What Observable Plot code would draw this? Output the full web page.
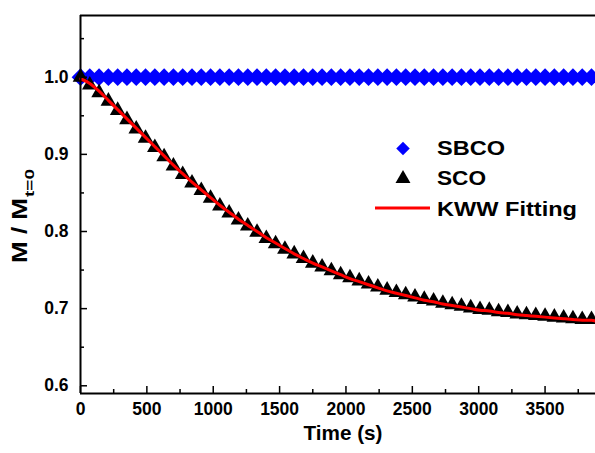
<!DOCTYPE html>
<html><head><meta charset="utf-8">
<script src="https://cdn.jsdelivr.net/npm/d3@7"></script>
<script src="https://cdn.jsdelivr.net/npm/@observablehq/plot@0.6"></script>
<style>
html,body{margin:0;padding:0;background:#fff;}
#chart{position:relative;width:595px;height:453px;overflow:hidden;}
</style></head><body><div id="chart"></div>
<script>
const time = [0,70,140,210,280,350,420,490,560,630,700,770,840,910,980,1050,1120,1190,1260,1330,1400,1470,1540,1610,1680,1750,1820,1890,1960,2030,2100,2170,2240,2310,2380,2450,2520,2590,2660,2730,2800,2870,2940,3010,3080,3150,3220,3290,3360,3430,3500,3570,3640,3710,3780,3850];
const sbco = [1.0,1.0,1.0,1.0,1.0,1.0,1.0,1.0,1.0,1.0,1.0,1.0,1.0,1.0,1.0,1.0,1.0,1.0,1.0,1.0,1.0,1.0,1.0,1.0,1.0,1.0,1.0,1.0,1.0,1.0,1.0,1.0,1.0,1.0,1.0,1.0,1.0,1.0,1.0,1.0,1.0,1.0,1.0,1.0,1.0,1.0,1.0,1.0,1.0,1.0,1.0,1.0,1.0,1.0,1.0,1.0];
const sco = [1.000,0.990,0.980,0.969,0.957,0.945,0.933,0.921,0.909,0.897,0.885,0.874,0.863,0.853,0.843,0.833,0.824,0.815,0.807,0.799,0.791,0.784,0.777,0.771,0.765,0.759,0.754,0.749,0.744,0.740,0.736,0.732,0.728,0.724,0.721,0.718,0.715,0.712,0.710,0.707,0.705,0.703,0.701,0.699,0.698,0.696,0.695,0.693,0.692,0.691,0.690,0.689,0.688,0.687,0.686,0.686];
const fitTime = [0,70,140,210,280,350,420,490,560,630,700,770,840,910,980,1050,1120,1190,1260,1330,1400,1470,1540,1610,1680,1750,1820,1890,1960,2030,2100,2170,2240,2310,2380,2450,2520,2590,2660,2730,2800,2870,2940,3010,3080,3150,3220,3290,3360,3430,3500,3570,3640,3710,3780,3850,3880];
const fitValue = [0.998,0.992,0.982,0.970,0.958,0.946,0.934,0.922,0.910,0.898,0.886,0.875,0.864,0.854,0.844,0.834,0.825,0.816,0.808,0.800,0.792,0.785,0.778,0.771,0.765,0.759,0.754,0.749,0.744,0.739,0.735,0.731,0.727,0.723,0.720,0.717,0.714,0.711,0.709,0.706,0.704,0.702,0.700,0.698,0.697,0.695,0.694,0.692,0.691,0.690,0.689,0.688,0.687,0.686,0.685,0.685,0.684];
const xMajor = [0,500,1000,1500,2000,2500,3000,3500];
const xMinor = [250,750,1250,1750,2250,2750,3250,3750];
const yMajor = [0.6,0.7,0.8,0.9,1.0];
const yMinor = [0.65,0.75,0.85,0.95,1.05];
const legendLabels = ["SBCO","SCO","KWW Fitting"];
const xTitle = "Time (s)";
const yTitle = "M / M";
const ySub = "t=0";

const font = "'Liberation Sans', Arial, Helvetica, sans-serif";
const sbcoData = time.map((t,i)=>({t, v:sbco[i]}));
const scoData = time.map((t,i)=>({t, v:sco[i]}));
const fitData = fitTime.map((t,i)=>({t, v:fitValue[i]}));

const plot = Plot.plot({
  width:595, height:453,
  marginLeft:80, marginRight:0, marginTop:15, marginBottom:60,
  style:{fontFamily:font, fontSize:"17px", fontWeight:"bold", background:"#fff", color:"#000", overflow:"visible"},
  x:{domain:[0,3880], label:null},
  y:{domain:[0.59,1.08], label:null},
  marks:[
    Plot.dot(sbcoData, {x:"t", y:"v", symbol:"diamond2", r:8, fill:"#0000ff", stroke:"none"}),
    Plot.dot(scoData, {x:"t", y:"v", symbol:"triangle", r:5.8, fill:"#000", stroke:"none"}),
    Plot.line(fitData, {x:"t", y:"v", stroke:"#ff0000", strokeWidth:3, curve:"monotone-x"}),
    Plot.ruleX([0], {stroke:"#000", strokeWidth:2}),
    Plot.ruleY([0.59], {stroke:"#000", strokeWidth:2}),
    Plot.ruleY([1.08], {stroke:"#000", strokeWidth:2}),
    Plot.axisX(xMajor, {anchor:"bottom", tickSize:-7, strokeWidth:1.5, tickFormat:()=>"", label:null}),
    Plot.axisX(xMinor, {anchor:"bottom", tickSize:-4, strokeWidth:1.5, tickFormat:()=>"", label:null}),
    Plot.axisX(xMajor, {anchor:"bottom", tickSize:0, tickPadding:9, fontSize:17.5, tickFormat:d=>String(d), label:null}),
    Plot.axisY(yMajor, {anchor:"left", tickSize:-7, strokeWidth:1.5, tickFormat:()=>"", label:null}),
    Plot.axisY(yMinor, {anchor:"left", tickSize:-4, strokeWidth:1.5, tickFormat:()=>"", label:null}),
    Plot.axisY(yMajor, {anchor:"left", tickSize:0, tickPadding:12, fontSize:17.5, tickFormat:d=>d.toFixed(1), label:null})
  ]
});
document.getElementById("chart").appendChild(plot);

const svg = d3.select(plot);
const g = svg.append("g").attr("font-family", font).attr("font-weight", "bold").attr("fill", "#000");

g.append("text").attr("x", 343).attr("y", 440).attr("text-anchor", "middle")
  .attr("font-size", 21).attr("textLength", 79).attr("lengthAdjust", "spacingAndGlyphs").text(xTitle);

g.append("text").attr("transform", "translate(27,263) rotate(-90)").attr("text-anchor", "start")
  .attr("font-size", 22).attr("textLength", 65).attr("lengthAdjust", "spacingAndGlyphs").text(yTitle);
g.append("text").attr("transform", "translate(33.5,197) rotate(-90)").attr("text-anchor", "start")
  .attr("font-size", 13.5).attr("textLength", 28).attr("lengthAdjust", "spacingAndGlyphs").text(ySub);

// legend
const lg = svg.append("g").attr("font-family", font).attr("font-weight", "bold");
lg.append("path").attr("transform", "translate(403,148.5)")
  .attr("d", d3.symbol(d3.symbolDiamond2, 116)()).attr("fill", "#0000ff");
lg.append("path").attr("transform", "translate(403,178.7)")
  .attr("d", d3.symbol(d3.symbolTriangle, 97)()).attr("fill", "#000");
lg.append("line").attr("x1", 375).attr("x2", 430).attr("y1", 208).attr("y2", 208)
  .attr("stroke", "#ff0000").attr("stroke-width", 3);
const lw = [68, 49, 140];
const lb = [155, 185, 216];
legendLabels.forEach((s,i)=>{
  lg.append("text").attr("x", 437).attr("y", lb[i]).attr("font-size", 20).attr("text-anchor", "start")
    .attr("textLength", lw[i]).attr("lengthAdjust", "spacingAndGlyphs").attr("fill", "#000").text(s);
});
</script>
</body></html>
